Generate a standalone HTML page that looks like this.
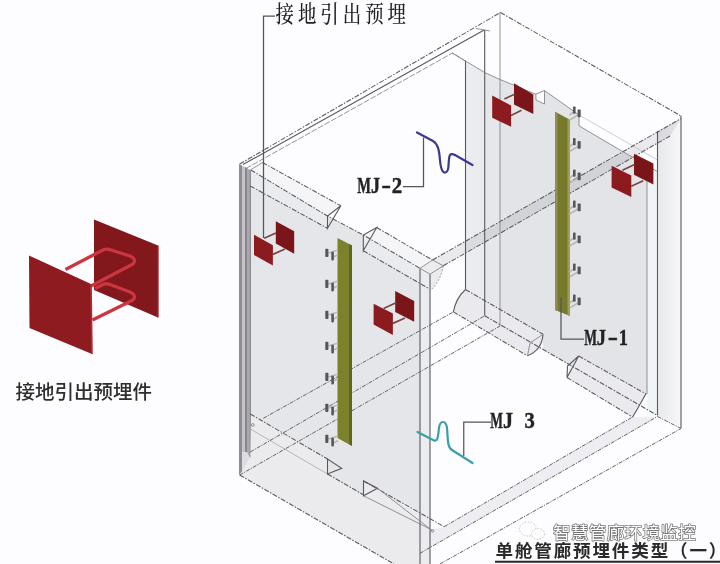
<!DOCTYPE html>
<html lang="zh">
<head>
<meta charset="utf-8">
<title>单舱管廊预埋件类型（一）</title>
<style>
html,body{margin:0;padding:0;background:#fdfcfe;}
body{width:720px;height:564px;overflow:hidden;position:relative;}
svg{position:absolute;left:0;top:0;display:block;filter:blur(0.45px);}
.ln{stroke:#58585d;stroke-width:1.1;fill:none;}
.dl{stroke:#5a5a5f;stroke-width:1.05;fill:none;stroke-dasharray:5 1.5 1.5 1.5;}
.fl{stroke:#626267;stroke-width:1.0;fill:none;stroke-dasharray:4 1.2 1.2 1.2;}
.tl{stroke:#808086;stroke-width:0.85;fill:none;}
.ld{stroke:#55555a;stroke-width:1.25;fill:none;}
.cad{font-family:"Liberation Serif","Noto Serif CJK SC",serif;fill:#222;}
.hei{font-family:"Liberation Sans","Noto Sans CJK SC",sans-serif;fill:#2e2e2e;}
.rp{fill:#8c1b20;}
.rb{fill:#7a151a;}
.bar{stroke:#7b4440;stroke-width:1.7;fill:none;}
.an{fill:#55565a;}
.as{stroke:#b9b9ae;stroke-width:1.6;fill:none;}
</style>
</head>
<body>
<svg width="720" height="564" viewBox="0 0 720 564">
<defs>
<linearGradient id="gr1" x1="0" y1="0" x2="1" y2="0"><stop offset="0" stop-color="#e8e9ec"/><stop offset="1" stop-color="#f7f7f9"/></linearGradient>
</defs>
<rect width="720" height="564" fill="#fdfcfe"/>

<!-- ===== right (far) wall ===== -->
<g id="rwall">
<polygon points="465.5,61 484.7,72.5 484.7,300.6 465.5,289.5" fill="#ebecef"/>
<polygon points="484.7,72.5 500,79.5 500,309.4 484.7,300.6" fill="#e6e7ea"/>
<polygon points="500,79.5 535.8,94.2 536,100 544.5,104 544.5,90.5 579,115 579,125.8 620,150 647,165.6 647,394.5 646,394 578.75,356 578.75,370 543,349.5 543,334.3 500,309.4" fill="#e2e4e8"/>
<polygon points="647,165.6 657.5,171.6 657.5,415.5 647,409.5" fill="#f1f4f7"/>
<polygon points="657.5,131 681,118 681,427.5 657.5,415.5" fill="url(#gr1)"/>
<polygon points="465.5,289.5 543,334.3 541,348 527.5,355.8 453.4,311.9 456,300" fill="#e9e9ee"/>
<polygon points="578.75,356 646,394 639.2,405.8 632.5,417 567,377.5 570,366" fill="#e9e9ee"/>
</g>

<!-- ===== left (near) wall ===== -->
<g id="lwall">
<polygon points="239,164 242,165.5 242,472 239,475" fill="#8e8c92"/>
<polygon points="242,165.5 245,167 245,452 242,452" fill="#c5c3c9"/>
<polygon points="245,167 247,168 247,452 245,452" fill="#88868c"/>
<polygon points="247,168 249.2,169.5 249.2,457 247,453" fill="#a9a8ae"/>
<polygon points="249.2,169.5 251,170.5 251,459 249.2,457" fill="#8d8c92"/>
<polygon points="242,452 247,452 250,458 242,472" fill="#dcdde2"/>
<polygon points="251,186 327.5,228.3 327.5,216 363.3,235 363.3,250.8 420,283.5 420,513 363.5,481 363.5,495.8 327.5,474 327.5,459 251,414" fill="#e5e6ea"/>
<polygon points="251,170 262.5,162.5 340.8,205.8 327.5,216" fill="#f5f5f8"/>
<polygon points="251,170 327.5,216 327.5,228.3 251,186" fill="#eaebef"/>
<polygon points="363.3,235 376.7,227.5 432.5,260 420,268.3" fill="#f5f5f8"/>
<polygon points="363.3,235 420,268.3 420,283.5 363.3,250.8" fill="#eaebef"/>
<polygon points="251,414 327.5,459 327.5,474 363.5,495.8 363.5,481 420,513 420,564 394,564 239.7,475 250.3,458" fill="#ebebee"/>
<polygon points="420,268.3 432.5,260 443.3,265.8 430,274.2 430,564 420,564" fill="#ebecef"/>
</g>

<polygon points="430,274.2 443.3,265.8 440.5,276 432,289 430,289" fill="#ebebef"/>
<path class="tl" d="M443.3,265.8 Q441,280 431,290" stroke-dasharray="2 1.5"/>
<!-- top band on front opening -->
<polygon points="432.5,260 681,118.6 670,136 443.3,265.8" fill="#404550" fill-opacity="0.1"/>
<!-- floor slab front face -->
<polygon points="444.2,526.7 632.5,417 657.5,416.5 430,547.5 430,530" fill="#eeeef2"/>

<!-- outline edges -->
<g id="edges">
<path class="dl" d="M239.7,164 L500.5,12.5"/>
<path class="tl" d="M246,168.5 L452.5,53 L465.5,61" stroke-dasharray="6 1.5"/>
<path class="ln" d="M243,164.6 L484.2,30" stroke-width="0.9"/>
<path class="tl" d="M476,28.5 L490,31"/>
<path class="tl" d="M250.3,170 L262.5,162.5"/>
<path class="dl" d="M500.5,12.5 L681,116"/>
<path class="ln" d="M681,116 L681,428"/>
<path class="dl" d="M239.7,475 L394,564"/>
<path class="ln" d="M420,268.3 L420,564"/>
<path class="ln" d="M430,274.2 L430,564"/>
<path class="dl" d="M432.5,260 L681,118.6"/>
<path class="dl" d="M443.3,265.8 L670,136"/>
<path class="ln" d="M657.5,131 L657.5,415.5"/>
<path class="tl" d="M647,178 L647,394"/>
<path class="ln" d="M465.5,60.5 L465.5,289.5"/>
<path class="ln" d="M484.7,30 L484.7,315.8"/>
<path class="tl" d="M500,12 L500,326"/>
<!-- right wall top edge -->
<path class="tl" d="M452,53 L484.7,72.5 L500,79.5 L535.8,94.2 L544.5,90.5 L579,115 L579,125.8 L620,150 L657.5,171.6"/>
<path class="tl" d="M535.8,94.2 L536,100 L544.5,104 L544.5,90.5"/>
<path class="tl" d="M579,115 L657.5,160" stroke-opacity="0.45"/>
<!-- right wall bottom edge -->
<path class="dl" d="M484.7,315.8 L657.5,415.5"/>
<!-- left wall haunches -->
<path class="dl" d="M262.5,162.5 L340.8,205.8"/>
<path class="dl" d="M250.8,170 L327.5,216 L363.3,235 L420,268.3"/>
<path class="dl" d="M250.3,186 L327.5,228.3"/>
<path class="ln" d="M340.8,205.8 L327.5,216 L327.5,228.3 Z"/>
<path class="ln" d="M376.7,227.5 L363.3,235 L363.3,250.8 Z"/>
<path class="dl" d="M376.7,227.5 L432.5,260"/>
<path class="dl" d="M363.3,250.8 L428.3,288.3"/>
<path class="tl" d="M432.5,260 L443.3,265.8 L430,274.2 L420,268.3 Z"/>
<!-- left wall bottom haunches -->
<path class="dl" d="M250.3,414 L327.5,459"/>
<path class="tl" d="M250.3,429 L327.5,474" stroke-opacity="0.6"/>
<circle cx="252.8" cy="425" r="1.4" class="tl"/>
<path class="ln" d="M327.5,459 L327.5,474 L341.7,468.3 Z"/>
<path class="dl" d="M327.5,474 L363.7,495"/>
<path class="ln" d="M363.5,481 L363.5,495.8 L377.5,488.3 Z"/>
<path class="dl" d="M363.5,481 L444.2,526.7"/>
<path class="tl" d="M363.5,495.8 L430,529"/>
<path class="tl" d="M377.5,488.3 L432.5,530.8"/>
<circle cx="432.5" cy="530.8" r="1.3" class="tl"/>
<!-- see-through floor back lines -->
<path class="fl" d="M263.3,418.3 L453.4,311.9"/>
<path class="fl" d="M250.3,452 L484.7,315.8"/>
<path class="fl" d="M239.7,475 L500,326"/>
<!-- floor front lines -->
<path class="fl" d="M444.2,526.7 L632.5,417"/>
<path class="fl" d="M420,553.3 L657.5,416.5"/>
<path class="fl" d="M440,564 L681,428.5"/>
<!-- right wall floor haunches -->
<path class="dl" d="M465.5,289.5 L543,334.3"/>
<path class="dl" d="M453.4,311.9 L527.5,355.8"/>
<path class="ln" d="M465.5,289.5 Q456,298 453.4,311.9"/>
<path class="ln" d="M543,334.3 Q542,350 527.5,355.8"/>
<path class="tl" d="M543,334.3 L530,343 L527.5,355.8"/>
<path class="dl" d="M578.75,356 L646,394"/>
<path class="dl" d="M567,377.5 L632.5,417"/>
<path class="ln" d="M578.75,356 L567,377.5 L567.5,366 Z"/>
<path class="ln" d="M646,393.5 L639.2,405.8 L632.5,417.3"/>
<path class="fl" d="M657.5,416.5 L681,428.5"/>
</g>

<!-- green strips -->
<g id="strips">
<polygon points="337.5,238 352,245.4 352,446 337.5,438" fill="#7b822b"/>
<polygon points="349,243.9 352,245.4 352,446 349,444.3" fill="#60661f"/>
<polygon points="555,111.7 570,119.8 570,316 555,310" fill="#787a2b"/>
<polygon points="555,111.7 557.5,113 557.5,311 555,310" fill="#908f58"/>
<polygon points="567.5,118.4 570,119.8 570,316 567.5,315" fill="#9c9c5c"/>
</g>

<!-- anchors -->
<g id="anchors">
<path class="as" d="M328.4,253.0 L338,250.0 M333.8,257.0 L338,254.5"/>
<rect class="an" x="325.3" y="248.8" width="3.1" height="8.2" rx="0.8"/>
<rect class="an" x="331.3" y="251.8" width="2.6" height="8.6" rx="0.8"/>
<path class="as" d="M328.4,284.0 L338,281.0 M333.8,288.0 L338,285.5"/>
<rect class="an" x="325.3" y="279.8" width="3.1" height="8.2" rx="0.8"/>
<rect class="an" x="331.3" y="282.8" width="2.6" height="8.6" rx="0.8"/>
<path class="as" d="M328.4,315.0 L338,312.0 M333.8,319.0 L338,316.5"/>
<rect class="an" x="325.3" y="310.8" width="3.1" height="8.2" rx="0.8"/>
<rect class="an" x="331.3" y="313.8" width="2.6" height="8.6" rx="0.8"/>
<path class="as" d="M328.4,346.0 L338,343.0 M333.8,350.0 L338,347.5"/>
<rect class="an" x="325.3" y="341.8" width="3.1" height="8.2" rx="0.8"/>
<rect class="an" x="331.3" y="344.8" width="2.6" height="8.6" rx="0.8"/>
<path class="as" d="M328.4,377.0 L338,374.0 M333.8,381.0 L338,378.5"/>
<rect class="an" x="325.3" y="372.8" width="3.1" height="8.2" rx="0.8"/>
<rect class="an" x="331.3" y="375.8" width="2.6" height="8.6" rx="0.8"/>
<path class="as" d="M328.4,408.0 L338,405.0 M333.8,412.0 L338,409.5"/>
<rect class="an" x="325.3" y="403.8" width="3.1" height="8.2" rx="0.8"/>
<rect class="an" x="331.3" y="406.8" width="2.6" height="8.6" rx="0.8"/>
<path class="as" d="M328.4,439.0 L338,436.0 M333.8,443.0 L338,440.5"/>
<rect class="an" x="325.3" y="434.8" width="3.1" height="8.2" rx="0.8"/>
<rect class="an" x="331.3" y="437.8" width="2.6" height="8.6" rx="0.8"/>
<path class="as" d="M569.6,115.0 L573.5,112.0 M569.6,120.0 L578,115.0"/>
<rect class="an" x="573" y="106.5" width="2.6" height="7.2" rx="0.8"/>
<rect class="an" x="577.6" y="109.4" width="3.1" height="7.8" rx="0.8"/>
<path class="as" d="M569.6,146.5 L573.5,143.5 M569.6,151.5 L578,146.5"/>
<rect class="an" x="573" y="138.0" width="2.6" height="7.2" rx="0.8"/>
<rect class="an" x="577.6" y="140.9" width="3.1" height="7.8" rx="0.8"/>
<path class="as" d="M569.6,178.0 L573.5,175.0 M569.6,183.0 L578,178.0"/>
<rect class="an" x="573" y="169.5" width="2.6" height="7.2" rx="0.8"/>
<rect class="an" x="577.6" y="172.4" width="3.1" height="7.8" rx="0.8"/>
<path class="as" d="M569.6,209.0 L573.5,206.0 M569.6,214.0 L578,209.0"/>
<rect class="an" x="573" y="200.5" width="2.6" height="7.2" rx="0.8"/>
<rect class="an" x="577.6" y="203.4" width="3.1" height="7.8" rx="0.8"/>
<path class="as" d="M569.6,241.0 L573.5,238.0 M569.6,246.0 L578,241.0"/>
<rect class="an" x="573" y="232.5" width="2.6" height="7.2" rx="0.8"/>
<rect class="an" x="577.6" y="235.4" width="3.1" height="7.8" rx="0.8"/>
<path class="as" d="M569.6,272.0 L573.5,269.0 M569.6,277.0 L578,272.0"/>
<rect class="an" x="573" y="263.5" width="2.6" height="7.2" rx="0.8"/>
<rect class="an" x="577.6" y="266.4" width="3.1" height="7.8" rx="0.8"/>
<path class="as" d="M569.6,303.0 L573.5,300.0 M569.6,308.0 L578,303.0"/>
<rect class="an" x="573" y="294.5" width="2.6" height="7.2" rx="0.8"/>
<rect class="an" x="577.6" y="297.4" width="3.1" height="7.8" rx="0.8"/>
</g>

<!-- red embeds -->
<g id="embeds">
<polygon class="rb" points="275.8,221.3 294.2,231.3 294.2,253.8 275.8,243.5"/>
<path class="bar" d="M264.2,238.3 L276,233 M272.9,254.4 L285,249"/>
<polygon class="rp" points="254,234.8 272.9,245.2 272.9,265.4 254,255"/>

<polygon class="rb" points="395.2,291.1 414.2,301 414.2,321.7 395.2,311.9"/>
<path class="bar" d="M383.6,308.4 L395.5,303 M392.9,323.4 L405,318"/>
<polygon class="rp" points="373.6,303.8 392.9,313.6 392.9,335 373.6,324.6"/>

<polygon class="rb" points="514,83.3 533.3,94.4 533.3,114 514,104.4"/>
<path class="bar" d="M504.4,98.9 L514.6,94.2 M511,115.5 L521.5,110.2"/>
<polygon class="rp" points="492.2,95.6 511.1,105.6 511.1,126.7 492.2,117.8"/>

<polygon class="rb" points="634,153.8 653.4,163.5 653.4,184.4 634,174.7"/>
<path class="bar" d="M622.4,170.2 L634.6,164.6 M631.3,186.3 L643.2,180.7"/>
<polygon class="rp" points="611.6,165.8 631.3,175.5 631.3,197 611.6,187.4"/>
</g>

<!-- big embed on the left -->
<g id="bigembed">
<polygon points="94,219.5 158,245.5 158,317.5 94,290" fill="#82171c"/>
<path d="M65.5,269.5 L101,251 Q106,248 111,250 L130,256 Q137,259 133,264 L91,286" stroke="#cc3640" stroke-width="3.3" fill="none" stroke-linejoin="round"/>
<path d="M95,288.5 L103,284.5 Q106,283 110,284.5 L130,292 Q137,295.5 133,300 L92.5,320" stroke="#cc3640" stroke-width="3.3" fill="none" stroke-linejoin="round"/>
<polygon points="29,255.5 91,284 92,354 29.5,328" fill="#8e1b20"/>
<path d="M91,284 L92,354" stroke="#b32a32" stroke-width="1.6"/>
<path d="M158,245.5 L158,317.5" stroke="#a8272e" stroke-width="1.4"/>
</g>

<!-- MJ curves -->
<path d="M417,132.5 L433,141 C441,146 439,160 441,167 C443,175 448,174 448.5,166 C449,156 449,152 455,155 L472.5,165" stroke="#3c3a8e" stroke-width="2.2" fill="none" stroke-linecap="round"/>
<path d="M417.5,432 L434,440.5 C438,442 438,436 439,428 C440,420 446,420 447,428 C448,438 447,447 452,450 L472.5,463" stroke="#3aa0a8" stroke-width="2.2" fill="none" stroke-linecap="round"/>

<!-- leaders -->
<path class="ld" d="M275,16 L263.5,16 L263.5,238"/>
<path class="ld" d="M423.5,137.5 L423.5,186.7 L403,186.7"/>
<path class="ld" d="M561,297.5 L561,339.2 L584,339.2"/>
<path class="ld" d="M463.75,456 L463.75,422 L491,422"/>

<!-- wechat mark -->
<g id="wx" fill="#fdfdfd" stroke="#c4c4c4" stroke-width="1" stroke-dasharray="1.5 1.5">
<ellipse cx="528" cy="529" rx="8.5" ry="7"/>
<ellipse cx="538" cy="534" rx="6.5" ry="5.5"/>
</g>
<!-- text -->
<text class="cad" x="275.5" y="22.3" font-size="23" font-weight="500" letter-spacing="5" textLength="134.5" lengthAdjust="spacingAndGlyphs">接地引出预埋</text>
<text class="cad" y="193" font-size="23" font-weight="bold" stroke="#222" stroke-width="0.45"><tspan x="357.3" textLength="13.7" lengthAdjust="spacingAndGlyphs">M</tspan><tspan x="371" textLength="9.0" lengthAdjust="spacingAndGlyphs">J</tspan><tspan x="381.5" textLength="9.5" lengthAdjust="spacingAndGlyphs">-</tspan><tspan x="391.8" textLength="10.4" lengthAdjust="spacingAndGlyphs">2</tspan></text>
<text class="cad" y="345" font-size="23" font-weight="bold" stroke="#222" stroke-width="0.45"><tspan x="584.3" textLength="12.7" lengthAdjust="spacingAndGlyphs">M</tspan><tspan x="596.8" textLength="9.2" lengthAdjust="spacingAndGlyphs">J</tspan><tspan x="607.8" textLength="10.2" lengthAdjust="spacingAndGlyphs">-</tspan><tspan x="618.8" textLength="9.2" lengthAdjust="spacingAndGlyphs">1</tspan></text>
<text class="cad" y="427.7" font-size="23" font-weight="bold" stroke="#222" stroke-width="0.45"><tspan x="490.3" textLength="12.7" lengthAdjust="spacingAndGlyphs">M</tspan><tspan x="503" textLength="10.0" lengthAdjust="spacingAndGlyphs">J</tspan><tspan x="513" textLength="11.5" lengthAdjust="spacingAndGlyphs"> </tspan><tspan x="524.5" textLength="10.3" lengthAdjust="spacingAndGlyphs">3</tspan></text>
<text class="hei" x="15.5" y="399.3" font-size="19.5" font-weight="500">接地引出预埋件</text>
<text class="hei" x="553" y="538.5" font-size="17.6" letter-spacing="0.3" stroke="#727272" stroke-width="1.5" paint-order="stroke" stroke-linejoin="round" style="fill:#ffffff">智慧管廊环境监控</text>
<text class="hei" x="495.5" y="557.3" font-size="17.6" font-weight="bold" letter-spacing="1.8" style="fill:#2a2a2a">单舱管廊预埋件类型（一）</text>
<path d="M495,561.7 L720,561.7" stroke="#2a2a2a" stroke-width="2.1"/>
</svg>
</body>
</html>
